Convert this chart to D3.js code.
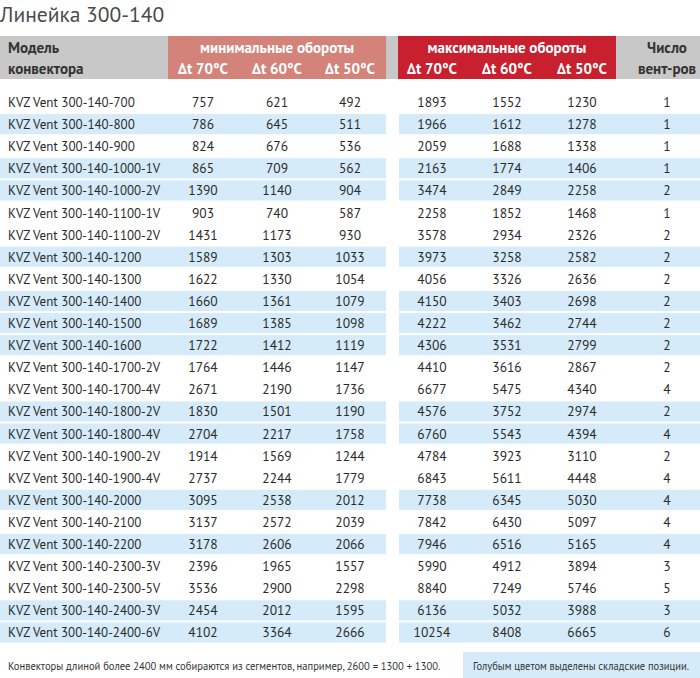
<!DOCTYPE html>
<html>
<head>
<meta charset="utf-8">
<script src="https://cdn.jsdelivr.net/npm/d3@7"></script>
<style>
  body { margin: 0; background: #fff; }
  svg text { font-family: "PT Sans", Roboto, "Noto Sans", sans-serif; }
</style>
</head>
<body>
<svg id="chart" width="700" height="678"></svg>
<script>
// small stand-in for d3-selection-multi
d3.selection.prototype.attrs = function (o) {
  Object.keys(o).forEach(k => this.attr(k, o[k]))
  return this
}

let models = ["700", "800", "900", "1000-1V", "1000-2V", "1100-1V", "1100-2V", "1200", "1300",
  "1400", "1500", "1600", "1700-2V", "1700-4V", "1800-2V", "1800-4V", "1900-2V", "1900-4V",
  "2000", "2100", "2200", "2300-3V", "2300-5V", "2400-3V", "2400-6V"].map(d => "KVZ Vent 300-140-" + d)

let min70 = [757, 786, 824, 865, 1390, 903, 1431, 1589, 1622, 1660, 1689, 1722, 1764, 2671, 1830, 2704, 1914, 2737, 3095, 3137, 3178, 2396, 3536, 2454, 4102]
let min60 = [621, 645, 676, 709, 1140, 740, 1173, 1303, 1330, 1361, 1385, 1412, 1446, 2190, 1501, 2217, 1569, 2244, 2538, 2572, 2606, 1965, 2900, 2012, 3364]
let min50 = [492, 511, 536, 562, 904, 587, 930, 1033, 1054, 1079, 1098, 1119, 1147, 1736, 1190, 1758, 1244, 1779, 2012, 2039, 2066, 1557, 2298, 1595, 2666]
let max70 = [1893, 1966, 2059, 2163, 3474, 2258, 3578, 3973, 4056, 4150, 4222, 4306, 4410, 6677, 4576, 6760, 4784, 6843, 7738, 7842, 7946, 5990, 8840, 6136, 10254]
let max60 = [1552, 1612, 1688, 1774, 2849, 1852, 2934, 3258, 3326, 3403, 3462, 3531, 3616, 5475, 3752, 5543, 3923, 5611, 6345, 6430, 6516, 4912, 7249, 5032, 8408]
let max50 = [1230, 1278, 1338, 1406, 2258, 1468, 2326, 2582, 2636, 2698, 2744, 2799, 2867, 4340, 2974, 4394, 3110, 4448, 5030, 5097, 5165, 3894, 5746, 3988, 6665]
let fans = [1, 1, 1, 1, 2, 1, 2, 2, 2, 2, 2, 2, 2, 4, 2, 4, 2, 4, 4, 4, 4, 3, 5, 3, 6]
// blue rows = stock items
let inStock = [0, 1, 0, 1, 1, 0, 0, 1, 0, 1, 1, 1, 0, 0, 1, 1, 0, 0, 1, 0, 1, 0, 0, 1, 1]

let temps = ["Δt 70°C", "Δt 60°C", "Δt 50°C"]
let columns = ["min70", "min60", "min50", "max70", "max60", "max50", "fans"]

let rows = models.map((m, i) => ({
  model: m, min70: min70[i], min60: min60[i], min50: min50[i],
  max70: max70[i], max60: max60[i], max50: max50[i], fans: fans[i], stock: inStock[i]
}))

let svg = d3.select("#chart")

let y = d3.scaleBand().domain(models).range([91, 91 + 22.1 * models.length]).paddingInner(0.09).paddingOuter(0.045)
let x = d3.scaleOrdinal().domain(columns).range([203, 277, 350, 432, 507, 582, 667])

// squeeze a text horizontally so it fits a width (original uses a narrow font)
function squeeze(sel, x0, width) {
  let len = sel.node().getComputedTextLength()
  let k = Math.min(1, width / len)
  sel.attr("x", 0).attr("transform", `translate(${x0},0) scale(${k},1)`)
}

// title
svg.append("text").attr("x", 0).attr("y", 22)
  .attr("font-size", 21.5).attr("fill", "#4a4a4a").text("Линейка 300-140")

// header bands
let bands = [
  [0, 168, "#c8c8c8"], [168, 386, "#d4837a"], [386, 398, "#c8c8c8"],
  [398, 616, "#c8202e"], [616, 700, "#c8c8c8"]
]
svg.append("g").selectAll("rect").data(bands).enter().append("rect")
  .attrs({ x: d => d[0], y: 36, width: d => d[1] - d[0], height: 43, fill: d => d[2] })

let head = svg.append("g").attr("font-weight", "bold").attr("font-size", 15)
head.append("text").attrs({ x: 8, y: 53, fill: "#333" }).text("Модель")
head.append("text").attrs({ x: 8, y: 74, fill: "#333" }).text("конвектора")
head.append("text").attrs({ x: 277, y: 53, fill: "#fff", "text-anchor": "middle" }).text("минимальные обороты")
head.append("text").attrs({ x: 507, y: 53, fill: "#fff", "text-anchor": "middle" }).text("максимальные обороты")
head.append("text").attrs({ x: 667, y: 53, fill: "#333", "text-anchor": "middle" }).text("Число")
head.append("text").attrs({ x: 667, y: 74, fill: "#333", "text-anchor": "middle" }).text("вент-ров")
head.selectAll("text.t").data(columns.slice(0, 6)).enter().append("text")
  .attrs({ x: d => x(d), y: 74, fill: "#fff", "text-anchor": "middle" })
  .text((d, i) => temps[i % 3])

// stock highlight
let stockRows = rows.filter(d => d.stock)
let hl = svg.append("g")
hl.selectAll("rect.l").data(stockRows).enter().append("rect")
  .attrs({ x: 0, y: d => y(d.model), width: 386, height: y.bandwidth(), fill: "#d5ebf9" })
hl.selectAll("rect.r").data(stockRows).enter().append("rect")
  .attrs({ x: 399, y: d => y(d.model), width: 301, height: y.bandwidth(), fill: "#d5ebf9" })

// row text
let body = svg.append("g").attr("font-size", 13.5).attr("fill", "#2b2b2b")
let rowG = body.selectAll("g").data(rows).enter().append("g")
  .attr("transform", d => `translate(0,${y(d.model) + y.bandwidth() / 2 + 5})`)
rowG.append("text").text(d => d.model)
  .each(function (d) { squeeze(d3.select(this), 8, d.model.length * 6.35) })
columns.forEach(c => {
  rowG.append("text").attrs({ x: x(c), "text-anchor": "middle" }).text(d => d[c])
})

// footer
let foot = svg.append("g").attr("transform", "translate(0,670)").attr("font-size", 12).attr("fill", "#333")
foot.append("text").text("Конвекторы длиной более 2400 мм собираются из сегментов, например, 2600 = 1300 + 1300.")
  .call(squeeze, 8, 433)
svg.append("rect").attrs({ x: 463, y: 652, width: 237, height: 26, fill: "#d5ebf9" })
let foot2 = svg.append("g").attr("transform", "translate(0,670)").attr("font-size", 12).attr("fill", "#333")
foot2.append("text").text("Голубым цветом выделены складские позиции.")
  .call(squeeze, 473, 216)
</script>
</body>
</html>
